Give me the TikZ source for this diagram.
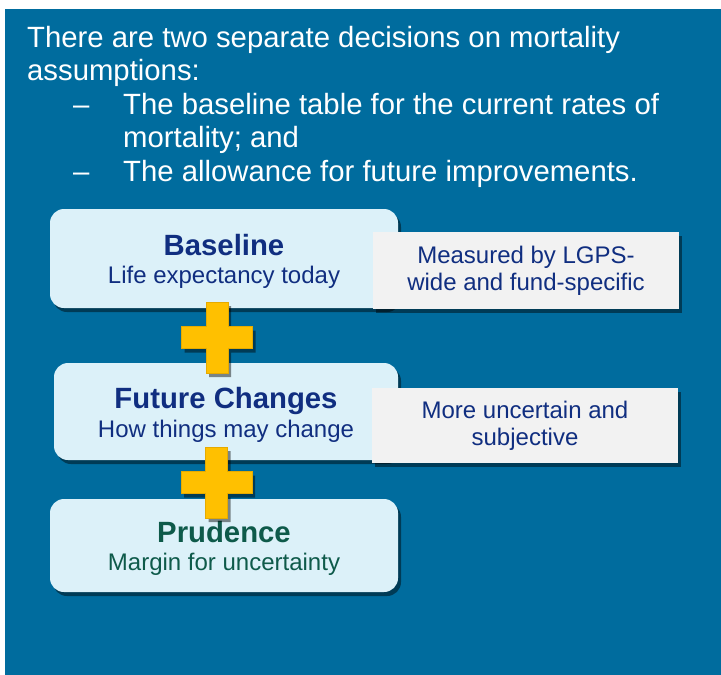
\documentclass[tikz,border=0pt]{standalone}
\usepackage{fontspec}
\setmainfont{Liberation Sans}
\usetikzlibrary{shadows}

\definecolor{slideblue}{RGB}{0,108,158}
\definecolor{stagefill}{RGB}{220,241,249}
\definecolor{inkblue}{RGB}{16,46,128}
\definecolor{inkgreen}{RGB}{14,90,74}
\definecolor{notegray}{RGB}{242,242,242}
\definecolor{plusyellow}{RGB}{255,192,0}
\definecolor{plusedge}{RGB}{230,170,0}

\begin{document}
\begin{tikzpicture}[x=1pt, y=-1pt]
    \tikzset{
        softshadow/.style={drop shadow={shadow xshift=3pt,
            shadow yshift=-4pt, fill=black, opacity=0.45}},
        headtext/.style={text=white, inner sep=0pt, anchor=base west,
            font=\fontsize{29.3}{33.5}\selectfont},
        stage/.style={fill=stagefill, rounded corners=14pt,
            minimum width=348pt, inner sep=0pt, softshadow},
        stagetitle/.style={text=inkblue, inner sep=0pt, anchor=base,
            font=\bfseries\fontsize{29.3}{33}\selectfont},
        stagesub/.style={text=inkblue, inner sep=0pt, anchor=base,
            font=\fontsize{24}{28}\selectfont},
        note/.style={fill=notegray, minimum width=306pt, inner sep=0pt,
            align=center, text=inkblue, softshadow,
            font=\fontsize{24}{27}\selectfont},
        plusmark/.pic={
            \filldraw[fill=plusyellow, draw=plusedge, line width=0.8pt,
                softshadow]
                (-11,-35.5) -- (11,-35.5) -- (11,-11) -- (35.5,-11)
                -- (35.5,11) -- (11,11) -- (11,35.5) -- (-11,35.5)
                -- (-11,11) -- (-35.5,11) -- (-35.5,-11) -- (-11,-11)
                -- cycle;
        }
    }
    \useasboundingbox (0,0) rectangle (721,675);
    \fill[slideblue] (5,9) rectangle (721,675);

    % heading and the two bullets
    \node[headtext] (head1) at (27,47)
        {There are two separate decisions on mortality};
    \node[headtext] (head2) at (27,80) {assumptions:};
    \foreach \y in {114, 181} {
        \node[headtext] (dash\y) at (73,\y) {--};
    }
    \node[headtext] (itemA1) at (123,114)
        {The baseline table for the current rates of};
    \node[headtext] (itemA2) at (123,147) {mortality; and};
    \node[headtext] (itemB) at (123,181)
        {The allowance for future improvements.};

    % the three stages
    \node[stage, minimum height=99pt] (base) at (224,258.5) {};
    \node[stage, minimum height=97pt, minimum width=344pt]
        (change) at (226,411.5) {};
    \node[stage, minimum height=93pt] (prud) at (224,545.5) {};

    \node[stagetitle] (baseT) at (224,255) {Baseline};
    \node[stagesub] (baseS) at (224,283) {Life expectancy today};
    \node[stagetitle] (changeT) at (226,408) {Future Changes};
    \node[stagesub] (changeS) at (226,437) {How things may change};
    \node[stagetitle, text=inkgreen] (prudT) at (224,542) {Prudence};
    \node[stagesub, text=inkgreen] (prudS) at (224,570)
        {Margin for uncertainty};

    % side notes
    \node[note, minimum height=77pt] (noteA) at (526,270.5)
        {Measured by LGPS-\\wide and fund-specific};
    \node[note, minimum height=75pt] (noteB) at (525,425.5)
        {More uncertain and\\subjective};

    % plus signs between the stages
    \pic (plusA) at (217,337.5) {plusmark};
    \pic (plusB) at (216.5,482.5) {plusmark};
\end{tikzpicture}
\end{document}
